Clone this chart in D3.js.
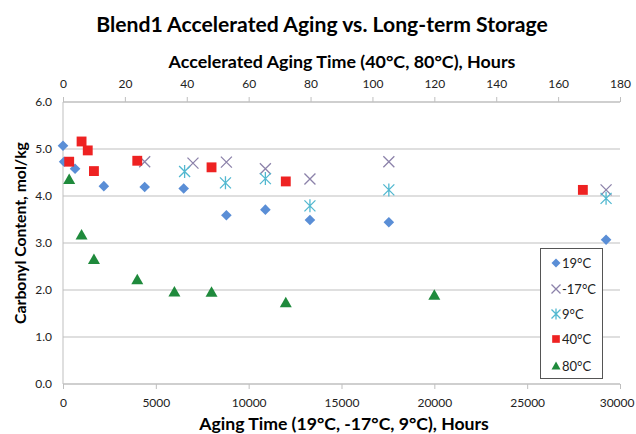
<!DOCTYPE html>
<html><head><meta charset="utf-8">
<script src="https://cdn.jsdelivr.net/npm/d3@7"></script>
<style>body{margin:0;background:#fff}svg{display:block}text{font-family:"Lato","Open Sans",sans-serif}</style>
</head><body>
<svg id="c" width="636" height="434"></svg>
<script>
// Bottom-axis series (storage hours)
const t19 = [0, 60, 650, 2200, 4400, 6500, 8800, 10900, 13300, 17550, 29250];
const v19 = [5.07, 4.73, 4.58, 4.21, 4.19, 4.16, 3.59, 3.71, 3.49, 3.44, 3.07];
const tm17 = [4400, 7000, 8800, 10900, 13300, 17550, 29250];
const vm17 = [4.73, 4.70, 4.72, 4.58, 4.36, 4.73, 4.13];
const t9 = [6550, 8750, 10900, 13300, 17550, 29250];
const v9 = [4.52, 4.28, 4.37, 3.79, 4.13, 3.95];
// Top-axis series (accelerated hours)
const t40 = [2, 6, 8, 10, 24, 48, 72, 168];
const v40 = [4.73, 5.16, 4.97, 4.53, 4.75, 4.61, 4.31, 4.13];
const t80 = [2, 6, 10, 24, 36, 48, 72, 120];
const v80 = [4.35, 3.17, 2.65, 2.22, 1.96, 1.95, 1.73, 1.89];

const bottomTicks = [0, 5000, 10000, 15000, 20000, 25000, 30000];
const topTicks = [0, 20, 40, 60, 80, 100, 120, 140, 160, 180];
const yTicks = [0, 1, 2, 3, 4, 5, 6];
const legendLabels = ["19°C", "-17°C", "9°C", "40°C", "80°C"];

const svg = d3.select("#c");
const L = 63, R = 620, T = 102, B = 384;
const x = d3.scaleLinear().domain([0, 30000]).range([L, R]);
const xt = d3.scaleLinear().domain([0, 180]).range([L, R]);
const y = d3.scaleLinear().domain([0, 6]).range([B, T]);
const grid = "#bfbfbf";

svg.append("g").selectAll("line").data(yTicks).join("line")
  .attr("x1", L).attr("x2", R).attr("y1", d => y(d)).attr("y2", d => y(d))
  .attr("stroke", grid).attr("stroke-width", 1);

const yAxis = svg.append("g").attr("transform", `translate(${L},0)`)
  .call(d3.axisLeft(y).tickValues(yTicks).tickFormat(d3.format(".1f")).tickSize(0).tickPadding(11));
const xAxis = svg.append("g").attr("transform", `translate(0,${B})`)
  .call(d3.axisBottom(x).tickValues(bottomTicks).tickFormat(d3.format("d")).tickSize(5).tickPadding(9));
const xTop = svg.append("g").attr("transform", `translate(0,${T})`)
  .call(d3.axisTop(xt).tickValues(topTicks).tickFormat(d3.format("d")).tickSize(5).tickPadding(9));
[yAxis, xAxis, xTop].forEach(g => {
  g.select(".domain").attr("stroke", grid);
  g.selectAll(".tick line").attr("stroke", grid);
  g.selectAll("text").attr("fill", "#222").style("font-size", "12px").style("font-family", "Lato,sans-serif");
});
yAxis.select(".domain").attr("d", `M0,${T}V${B}`);
xAxis.select(".domain").attr("d", `M${L},0H${R}`);
xTop.select(".domain").attr("d", `M${L},0H${R}`);
// keep the last bottom label inside the canvas
xAxis.selectAll(".tick").filter(d => d === 30000).select("text")
  .attr("text-anchor", "end").attr("x", 14);

function fit(sel, w) {
  const n = sel.node(); const cur = n.getComputedTextLength();
  const fs = parseFloat(sel.style("font-size"));
  sel.style("font-size", (fs * w / cur) + "px");
}
const title = svg.append("text").attr("x", 322).attr("y", 32).attr("text-anchor", "middle")
  .style("font-weight", "bold").style("font-size", "20px").attr("fill", "#000")
  .text("Blend1 Accelerated Aging vs. Long-term Storage");
fit(title, 452);
const tt = svg.append("text").attr("x", 342).attr("y", 68).attr("text-anchor", "middle")
  .style("font-weight", "bold").style("font-size", "16px").attr("fill", "#000")
  .text("Accelerated Aging Time (40°C, 80°C), Hours");
fit(tt, 347);
const bt = svg.append("text").attr("x", 344).attr("y", 430).attr("text-anchor", "middle")
  .style("font-weight", "bold").style("font-size", "16px").attr("fill", "#000")
  .text("Aging Time (19°C, -17°C, 9°C), Hours");
fit(bt, 290);
const yt = svg.append("text").attr("transform", "translate(26,233) rotate(-90)").attr("text-anchor", "middle")
  .style("font-weight", "bold").style("font-size", "16px").attr("fill", "#000")
  .text("Carbonyl Content, mol/kg");
fit(yt, 182);

const cBlue = "#5a8ed6", cX = "#8c82aa", cAst = "#52b8d0", cRed = "#ee2222", cGreen = "#1f8a3c";
function markerPath(kind, s) {
  if (kind === "diamond") return `M0,${-s}L${s},0L0,${s}L${-s},0Z`;
  if (kind === "square") { const h = s * 0.85; return `M${-h},${-h}H${h}V${h}H${-h}Z`; }
  if (kind === "triangle") return `M0,${-s}L${s},${s * 0.75}L${-s},${s * 0.75}Z`;
  if (kind === "x") return `M${-s},${-s}L${s},${s}M${-s},${s}L${s},${-s}`;
  return `M${-s},${-s}L${s},${s}M${-s},${s}L${s},${-s}M0,${-s - 1}V${s + 1}`;
}
function draw(g, px, py, kind, color, s) {
  const stroked = kind === "x" || kind === "ast";
  g.append("path").attr("transform", `translate(${px},${py})`)
    .attr("d", markerPath(kind, s))
    .attr("fill", stroked ? "none" : color)
    .attr("stroke", stroked ? color : "none")
    .attr("stroke-width", stroked ? 1.3 : 0);
}
const pts = svg.append("g");
t19.forEach((t, i) => draw(pts, x(t), y(v19[i]), "diamond", cBlue, 5.3));
tm17.forEach((t, i) => draw(pts, x(t), y(vm17[i]), "x", cX, 5.5));
t9.forEach((t, i) => draw(pts, x(t), y(v9[i]), "ast", cAst, 5.5));
t40.forEach((t, i) => draw(pts, xt(t), y(v40[i]), "square", cRed, 5.8));
t80.forEach((t, i) => draw(pts, xt(t), y(v80[i]), "triangle", cGreen, 6));

const lg = svg.append("g");
lg.append("rect").attr("x", 540.5).attr("y", 248.5).attr("width", 62).attr("height", 130)
  .attr("fill", "#fff").attr("stroke", "#555").attr("stroke-width", 1);
const kinds = [["diamond", cBlue], ["x", cX], ["ast", cAst], ["square", cRed], ["triangle", cGreen]];
const ly = [263, 289, 314, 339, 366];
legendLabels.forEach((lab, i) => {
  draw(lg, 556, ly[i], kinds[i][0], kinds[i][1], 4.5);
  lg.append("text").attr("x", 562).attr("y", ly[i] + 4.5).style("font-size", "13px").attr("fill", "#222").text(lab);
});
</script>
</body></html>
